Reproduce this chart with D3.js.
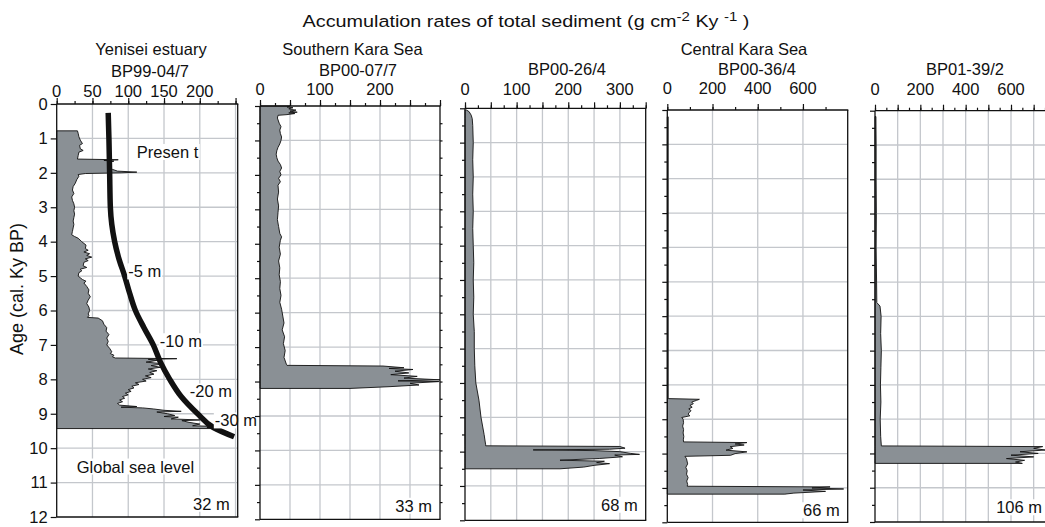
<!DOCTYPE html>
<html>
<head>
<meta charset="utf-8">
<script src="https://cdn.jsdelivr.net/npm/d3@7"></script>
<style>
  body { margin: 0; background: #fff; }
  svg { display: block; font-family: "Liberation Sans", Arial, sans-serif; }
</style>
</head>
<body>
<svg id="chart" width="1045" height="527"></svg>
<script>
// ---- data: [age (cal. ky BP), accumulation rate] ----
const ageTicks = d3.range(0, 13);

const yeniseiRates = [
  [0.78, 29], [0.85, 30], [0.95, 31], [1.05, 33], [1.15, 36], [1.2, 32], [1.3, 33], [1.35, 37],
  [1.4, 31], [1.5, 30], [1.6, 29], [1.62, 86], [1.64, 66], [1.66, 80], [1.7, 72], [1.75, 74],
  [1.8, 76], [1.85, 72], [1.9, 78], [1.95, 85], [1.98, 112], [2.0, 90], [2.02, 40], [2.05, 30],
  [2.1, 31], [2.2, 28], [2.3, 26], [2.4, 23], [2.5, 22], [2.6, 24], [2.7, 21], [2.8, 22],
  [2.9, 24], [3.0, 25], [3.1, 24], [3.2, 25], [3.3, 24], [3.4, 23], [3.5, 24], [3.6, 23],
  [3.7, 22], [3.8, 21], [3.85, 25], [3.9, 30], [4.0, 35], [4.1, 41], [4.2, 40], [4.25, 44],
  [4.3, 38], [4.35, 46], [4.4, 42], [4.45, 49], [4.5, 40], [4.55, 44], [4.6, 38], [4.7, 37],
  [4.75, 42], [4.8, 33], [4.85, 35], [4.9, 31], [5.0, 30], [5.05, 33], [5.1, 36], [5.15, 41],
  [5.2, 38], [5.3, 42], [5.4, 45], [5.5, 44], [5.6, 47], [5.7, 44], [5.8, 42], [5.9, 45],
  [6.0, 46], [6.1, 44], [6.15, 45], [6.2, 43], [6.22, 58], [6.3, 64], [6.4, 66], [6.5, 70],
  [6.6, 69], [6.7, 73], [6.8, 70], [6.9, 72], [7.0, 70], [7.1, 74], [7.2, 77], [7.25, 75],
  [7.3, 80], [7.35, 78], [7.38, 82], [7.4, 168], [7.42, 128], [7.45, 140], [7.5, 125],
  [7.55, 150], [7.6, 132], [7.65, 145], [7.7, 128], [7.75, 140], [7.8, 130], [7.85, 136],
  [7.9, 124], [7.95, 132], [8.0, 120], [8.05, 125], [8.1, 110], [8.15, 115], [8.2, 105],
  [8.25, 108], [8.3, 100], [8.35, 104], [8.4, 96], [8.45, 100], [8.5, 92], [8.55, 95],
  [8.6, 88], [8.65, 92], [8.7, 85], [8.75, 88], [8.79, 112], [8.81, 90], [8.83, 120],
  [8.86, 135], [8.9, 150], [8.93, 174], [8.95, 140], [9.0, 155], [9.05, 165], [9.08, 150],
  [9.1, 170], [9.15, 160], [9.18, 200], [9.2, 175], [9.25, 185], [9.3, 200], [9.35, 190],
  [9.38, 247], [9.4, 210], [9.43, 230]
];

const southernKaraRates = [
  [0.0, 50], [0.03, 45], [0.05, 55], [0.08, 48], [0.1, 52], [0.12, 60], [0.15, 50], [0.18, 62],
  [0.2, 48], [0.22, 58], [0.25, 45], [0.27, 30], [0.35, 29], [0.5, 32], [0.6, 35], [0.7, 33],
  [0.8, 34], [0.9, 36], [1.0, 35], [1.1, 33], [1.2, 30], [1.3, 28], [1.4, 27], [1.5, 28],
  [1.6, 30], [1.7, 34], [1.8, 36], [1.9, 33], [2.0, 35], [2.1, 31], [2.2, 34], [2.3, 30],
  [2.5, 31], [2.7, 29], [2.9, 31], [3.1, 30], [3.3, 29], [3.5, 31], [3.7, 33], [3.8, 36],
  [3.9, 34], [4.1, 32], [4.3, 34], [4.5, 31], [4.7, 33], [4.9, 32], [5.1, 34], [5.3, 33],
  [5.5, 35], [5.7, 33], [5.9, 36], [6.1, 38], [6.3, 40], [6.5, 37], [6.7, 41], [6.9, 39],
  [7.1, 42], [7.3, 40], [7.5, 44], [7.53, 45], [7.55, 205], [7.6, 240], [7.62, 215],
  [7.65, 255], [7.7, 225], [7.75, 248], [7.8, 218], [7.85, 262], [7.9, 240], [7.95, 300],
  [7.98, 230], [8.0, 298], [8.05, 250], [8.1, 265], [8.15, 215], [8.2, 150]
];

const bp0026Rates = [
  [0.05, 3], [0.1, 8], [0.2, 12], [0.3, 14], [0.5, 15], [1.0, 16], [1.5, 15], [2.0, 16],
  [2.5, 15], [3.0, 16], [3.5, 15], [4.0, 16], [4.5, 17], [5.0, 16], [5.5, 17], [6.0, 16],
  [6.5, 18], [7.0, 18], [7.5, 19], [8.0, 21], [8.5, 27], [9.0, 31], [9.5, 37], [9.8, 40],
  [9.83, 40], [9.85, 300], [9.9, 310], [9.93, 280], [9.95, 132], [9.97, 250], [10.0, 300],
  [10.05, 320], [10.08, 338], [10.1, 290], [10.15, 305], [10.2, 260], [10.25, 184],
  [10.28, 270], [10.32, 255], [10.35, 280], [10.4, 250], [10.45, 230], [10.5, 184]
];

const bp0036Rates = [
  [0.2, 4], [2.0, 4], [4.0, 4], [6.0, 4], [8.4, 4], [8.42, 142], [8.45, 130], [8.5, 108],
  [8.55, 115], [8.6, 100], [8.65, 110], [8.7, 95], [8.75, 105], [8.8, 98], [8.85, 92],
  [8.9, 100], [8.95, 64], [9.0, 70], [9.1, 72], [9.2, 68], [9.3, 72], [9.4, 70], [9.5, 73],
  [9.6, 71], [9.66, 72], [9.68, 352], [9.72, 300], [9.75, 340], [9.8, 278], [9.85, 290],
  [9.9, 260], [9.95, 352], [10.0, 300], [10.05, 280], [10.08, 78], [10.15, 85], [10.3, 90],
  [10.4, 82], [10.5, 88], [10.6, 85], [10.7, 92], [10.8, 86], [10.9, 90], [10.95, 88],
  [10.97, 720], [11.0, 640], [11.03, 780], [11.06, 600], [11.1, 700], [11.15, 560], [11.18, 520]
];

const bp0139Rates = [
  [0.17, 4], [1.0, 5], [2.0, 5], [3.0, 6], [4.0, 5], [5.0, 7], [5.6, 8], [5.7, 22], [6.0, 27],
  [6.5, 25], [7.0, 28], [7.5, 26], [8.0, 24], [8.5, 26], [9.0, 23], [9.5, 25], [9.78, 28],
  [9.8, 740], [9.85, 700], [9.9, 750], [9.95, 640], [10.0, 720], [10.05, 600], [10.1, 700],
  [10.15, 580], [10.2, 660], [10.25, 620], [10.29, 650]
];

// global sea level curve drawn over the Yenisei core
const seaLevel = [
  [0.26, 72], [1, 73], [2, 74], [3, 75], [3.5, 77], [4, 81], [4.5, 87], [5, 95], [5.5, 102],
  [6, 110], [6.5, 122], [7, 135], [7.5, 145], [8, 158], [8.5, 174], [9, 197], [9.4, 219], [9.67, 248]
];
const seaLevelLabels = [
  { text: "Presen t", age: 1.4, rate: 112 },
  { text: "-5 m", age: 4.87, rate: 100 },
  { text: "-10 m", age: 6.9, rate: 144 },
  { text: "-20 m", age: 8.36, rate: 186 },
  { text: "-30 m", age: 9.2, rate: 221 },
  { text: "Global sea level", age: 10.54, rate: 28 }
];

const regionNames = ["Yenisei estuary", "Southern Kara Sea", "", "Central Kara Sea", ""];
const coreNames = ["BP99-04/7", "BP00-07/7", "BP00-26/4", "BP00-36/4", "BP01-39/2"];
const waterDepths = ["32 m", "33 m", "68 m", "66 m", "106 m"];
const rateTickLabels = [[0, 50, 100, 150, 200], [0, 100, 200], [0, 100, 200, 300], [0, 200, 400, 600], [0, 200, 400, 600]];

// ---- layout ----
const panels = [
  { data: yeniseiRates, max: 253, left: 56.7, right: 237.7, top: 104, bottom: 517, grid: 50, minor: 25,
    tickY: 97, nameX: 151, coreX: 150, coreY: 77, depthY: 504 },
  { data: southernKaraRates, max: 300, left: 260, right: 440, top: 106, bottom: 519.3, grid: 50, minor: 25,
    tickY: 94.5, nameX: 352.5, coreX: 358, coreY: 76, depthY: 506, halfTicks: true, rightTicks: true },
  { data: bp0026Rates, max: 350, left: 465, right: 645.7, top: 108.3, bottom: 520.3, grid: 50, minor: 25,
    tickY: 94.5, coreX: 567, coreY: 75, depthY: 505, halfTicks: true },
  { data: bp0036Rates, max: 798, left: 667.3, right: 847.7, top: 110, bottom: 522.3, grid: 200, minor: 100,
    tickY: 94, nameX: 744, coreX: 757, coreY: 75, depthY: 510.5, halfTicks: true },
  { data: bp0139Rates, max: 750, left: 875, right: 1045, top: 110.7, bottom: 522, grid: 100, minor: 50,
    tickY: 94.5, coreX: 965, coreY: 75, depthY: 507.5, halfTicks: true, open: true }
];

const svg = d3.select("#chart");
const fillColor = "#8a9095";
const gridColor = "#c4c7cc";
const ink = "#111";

svg.append("text")
  .attr("transform", "translate(526,27) scale(1.2,1)")
  .attr("text-anchor", "middle")
  .attr("font-size", 16.5)
  .attr("fill", ink)
  .html('Accumulation rates of total sediment (g cm<tspan dy="-6" font-size="12.5">-2</tspan><tspan dy="6"> Ky </tspan><tspan dy="-6" font-size="12.5">-1</tspan><tspan dy="6"> )</tspan>');

svg.append("text")
  .attr("transform", "translate(23,289) rotate(-90)")
  .attr("text-anchor", "middle")
  .attr("font-size", 18)
  .attr("fill", ink)
  .text("Age (cal. Ky BP)");

function addLabel(g, x, y, text, anchor) {
  const t = g.append("text")
    .attr("x", x).attr("y", y)
    .attr("dy", "0.35em")
    .attr("text-anchor", anchor || "start")
    .attr("font-size", 16.5)
    .attr("fill", ink)
    .text(text);
  const b = t.node().getBBox();
  g.insert("rect", () => t.node())
    .attr("x", b.x - 1).attr("y", b.y + 1)
    .attr("width", b.width + 2).attr("height", b.height - 2)
    .attr("fill", "#fff");
}

panels.forEach((p, i) => {
  const x = d3.scaleLinear().domain([0, p.max]).range([p.left, p.right]);
  const y = d3.scaleLinear().domain([0, 12]).range([p.top, p.bottom]);
  const g = svg.append("g");

  // grid
  g.selectAll(".vg")
    .data(d3.range(p.grid, p.max - 1, p.grid))
    .join("line")
    .attr("x1", (d) => x(d)).attr("x2", (d) => x(d))
    .attr("y1", p.top).attr("y2", p.bottom)
    .attr("stroke", gridColor).attr("stroke-width", 1.3);
  g.selectAll(".hg")
    .data(ageTicks.slice(1, -1))
    .join("line")
    .attr("x1", p.left).attr("x2", p.right)
    .attr("y1", (d) => y(d)).attr("y2", (d) => y(d))
    .attr("stroke", gridColor).attr("stroke-width", 1.3);

  // accumulation rate profile
  const area = d3.area()
    .x0(x(0))
    .x1((d) => x(d[1]))
    .y((d) => y(d[0]));
  g.append("path")
    .datum(p.data)
    .attr("d", area)
    .attr("fill", fillColor)
    .attr("stroke", ink)
    .attr("stroke-width", 0.9);

  if (i === 0) {
    const line = d3.line()
      .x((d) => x(d[1]))
      .y((d) => y(d[0]))
      .curve(d3.curveMonotoneY);
    g.append("path")
      .datum(seaLevel)
      .attr("d", line)
      .attr("fill", "none")
      .attr("stroke", ink)
      .attr("stroke-width", 5.5);
    seaLevelLabels.forEach((l) => addLabel(g, x(l.rate), y(l.age), l.text));
  }

  // frame
  const frame = [[p.left, p.top, p.left, p.bottom], [p.left, p.top, p.right + 0.6, p.top], [p.left, p.bottom, p.right + 0.6, p.bottom]];
  if (!p.open) frame.push([p.right, p.top, p.right, p.bottom]);
  g.selectAll(".frame")
    .data(frame)
    .join("line")
    .attr("x1", (d) => d[0]).attr("y1", (d) => d[1])
    .attr("x2", (d) => d[2]).attr("y2", (d) => d[3])
    .attr("stroke", ink).attr("stroke-width", 1.3);

  // top axis ticks
  g.append("g")
    .attr("transform", `translate(0,${p.top})`)
    .call(d3.axisTop(x).tickValues(d3.range(0, p.max + 1, p.minor)).tickSize(3).tickFormat(""))
    .call((a) => a.select(".domain").remove());
  g.append("g")
    .attr("transform", `translate(0,${p.top})`)
    .call(d3.axisTop(x).tickValues(d3.range(0, p.max + 1, p.grid)).tickSize(6).tickFormat(""))
    .call((a) => a.select(".domain").remove());

  // top axis labels
  g.selectAll(".rl")
    .data(rateTickLabels[i])
    .join("text")
    .attr("x", (d) => x(d))
    .attr("y", p.tickY)
    .attr("text-anchor", "middle")
    .attr("font-size", 16.5)
    .attr("fill", ink)
    .text((d) => d);

  g.append("text")
    .attr("x", p.coreX)
    .attr("y", p.coreY)
    .attr("text-anchor", "middle")
    .attr("font-size", 16.5)
    .attr("fill", ink)
    .text(coreNames[i]);
  if (regionNames[i]) {
    g.append("text")
      .attr("x", p.nameX)
      .attr("y", 54.5)
      .attr("text-anchor", "middle")
      .attr("font-size", 16.5)
      .attr("fill", ink)
      .text(regionNames[i]);
  }

  // left axis
  const la = g.append("g").attr("transform", `translate(${p.left},0)`);
  if (p.halfTicks) {
    la.call(d3.axisLeft(y).tickValues(d3.range(0.5, 12, 1)).tickSize(3).tickFormat(""));
    la.append("g").call(d3.axisLeft(y).tickValues(ageTicks).tickSize(5).tickFormat(""));
  } else {
    la.call(d3.axisLeft(y).tickValues(ageTicks).tickSize(6).tickPadding(3));
    la.selectAll("text").attr("font-size", 16.5).attr("fill", ink).attr("font-family", "Liberation Sans, Arial, sans-serif");
  }
  la.selectAll(".domain").remove();

  if (p.rightTicks) {
    g.append("g")
      .attr("transform", `translate(${p.right},0)`)
      .call(d3.axisLeft(y).tickValues(d3.range(0.5, 12, 0.5)).tickSize(-2.5).tickFormat(""))
      .call((a) => a.select(".domain").remove());
  }
  g.selectAll(".tick line").attr("stroke", ink).attr("stroke-width", 1.2);

  // water depth
  const depthX = Math.min(p.right, 1045) - (p.open ? 3 : 8);
  addLabel(g, depthX, p.depthY, waterDepths[i], "end");
});
</script>
</body>
</html>
